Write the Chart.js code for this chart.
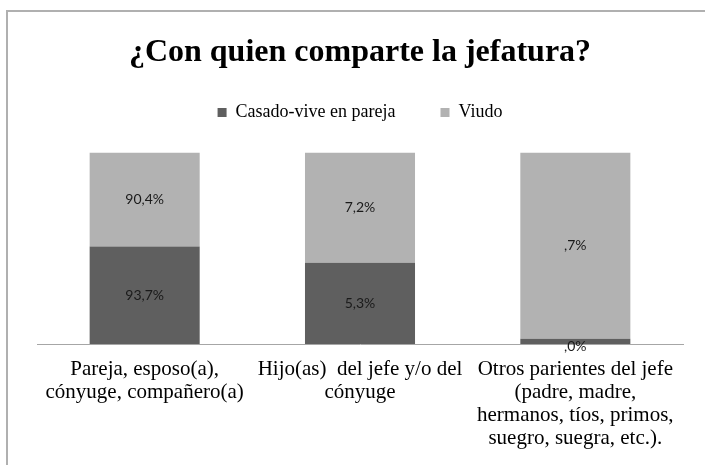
<!DOCTYPE html>
<html>
<head>
<meta charset="utf-8">
<script src="https://cdn.jsdelivr.net/npm/chart.js@4.4.1/dist/chart.umd.min.js"></script>
<style>
    html, body { margin: 0; padding: 0; background: #fff; overflow: hidden; }
    #wrap { position: relative; width: 705px; height: 465px; }
    #frame {
        position: absolute; left: 6px; top: 10px; width: 760px; height: 520px;
        border-left: 2px solid #b0b0b0; border-top: 2px solid #b0b0b0;
    }
    canvas { position: absolute; left: 0; top: 0; }
</style>
</head>
<body>
<div id="wrap">
    <div id="frame"></div>
    <canvas id="grafico" width="705" height="465"></canvas>
</div>
<script>
// Categorias (eje X)
const categorias = [
    ["Pareja, esposo(a),", "cónyuge, compañero(a)"],
    ["Hijo(as)  del jefe y/o del", "cónyuge"],
    ["Otros parientes del jefe", "(padre, madre,", "hermanos, tíos, primos,", "suegro, suegra, etc.)."]
];

// Valores tal como aparecen en las etiquetas
const casado = [93.7, 5.3, 0.02];
const viudo = [90.4, 7.2, 0.7];

const serieNombres = ["Casado-vive en pareja", "Viudo"];
const colores = ["#5f5f5f", "#b2b2b2"];
const titulo = "¿Con quien comparte la jefatura?";

// Barras apiladas al 100%
function proporcion(a, b) {
    return a.map((v, i) => v / (v + b[i]) * 100);
}

function formatoEtiqueta(v) {
    let s = v.toFixed(1).replace('.', ',');
    if (s.startsWith('0,')) s = s.substring(1);
    return s + '%';
}

const brutos = [casado, viudo];
const serif = '"Liberation Serif", "Times New Roman", serif';

// Dibuja las etiquetas de valor dentro de cada segmento
const etiquetasPlugin = {
    id: 'etiquetas',
    afterDatasetsDraw(chart) {
        const ctx = chart.ctx;
        ctx.save();
        ctx.font = '14px Lato, "Liberation Sans", sans-serif';
        ctx.fillStyle = '#1a1a1a';
        ctx.textAlign = 'center';
        ctx.textBaseline = 'middle';
        chart.data.datasets.forEach((ds, di) => {
            const meta = chart.getDatasetMeta(di);
            meta.data.forEach((bar, i) => {
                const props = bar.getProps(['x', 'y', 'base'], true);
                let y = (props.y + props.base) / 2;
                if (Math.abs(props.base - props.y) < 14) y = props.base + 2;
                ctx.fillText(formatoEtiqueta(brutos[di][i]), props.x, y);
            });
        });
        ctx.restore();
    }
};

// Ajuste del alto de la leyenda (espacio antes de las barras)
const leyendaPlugin = {
    id: 'leyendaAlto',
    beforeInit(chart) {
        const fitOriginal = chart.legend.fit;
        chart.legend.fit = function () {
            fitOriginal.call(this);
            this.height += 21;
        };
    }
};

const chart = new Chart(document.getElementById('grafico').getContext('2d'), {
    type: 'bar',
    data: {
        labels: categorias,
        datasets: [
            { label: serieNombres[0], data: proporcion(casado, viudo), backgroundColor: colores[0] },
            { label: serieNombres[1], data: proporcion(viudo, casado), backgroundColor: colores[1] }
        ]
    },
    options: {
        responsive: false,
        animation: false,
        layout: { padding: { left: 37, right: 22, top: 0, bottom: 1 } },
        datasets: { bar: { categoryPercentage: 1, barPercentage: 0.511 } },
        plugins: {
            title: {
                display: true, text: titulo, color: '#000',
                padding: { top: 34, bottom: -14 },
                font: { family: serif, size: 32, weight: 'bold', lineHeight: 1.2 }
            },
            tooltip: { enabled: false },
            legend: {
                position: 'top',
                labels: {
                    boxWidth: 9, boxHeight: 9, padding: 45, color: '#000',
                    font: { family: serif, size: 18 }
                }
            }
        },
        scales: {
            x: {
                stacked: true,
                grid: { display: false, drawTicks: false },
                border: { display: true, color: '#a6a6a6', width: 1 },
                ticks: {
                    maxRotation: 0, autoSkip: false, padding: 14, color: '#000',
                    font: { family: serif, size: 21, lineHeight: 1.095 }
                }
            },
            y: {
                stacked: true, display: false, min: 0, max: 100
            }
        }
    },
    plugins: [etiquetasPlugin, leyendaPlugin]
});
</script>
</body>
</html>
